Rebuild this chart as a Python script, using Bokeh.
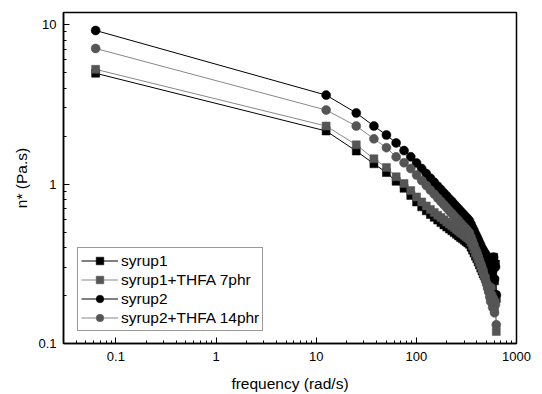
from bokeh.plotting import figure
from bokeh.models import Range1d, FixedTicker, Legend, LegendItem, CustomJSTickFormatter
from bokeh.embed import file_html
from bokeh.resources import INLINE

# frequency (rad/s)
FREQ = [0.0628, 12.57, 25.13, 37.70, 50.27, 62.83, 75.40, 87.96, 100.5, 113.1,
        125.7, 138.2, 150.8, 163.4, 175.9, 188.5, 201.1, 213.6, 226.2, 238.8,
        251.3, 263.9, 276.5, 289.0, 301.6, 314.2, 326.7, 339.3, 351.9, 364.4,
        377.0, 389.6, 402.1, 414.7, 427.3, 439.8, 452.4, 465.0, 477.5, 490.1,
        502.7, 515.2, 527.8, 540.4, 552.9, 565.5, 578.1, 590.6, 603.2, 615.8, 628.3]

SYRUP1 = [4.95, 2.15, 1.61, 1.34, 1.18, 1.04, 0.94, 0.848, 0.772, 0.719,
          0.679, 0.645, 0.618, 0.594, 0.573, 0.554, 0.538, 0.522, 0.509, 0.496,
          0.484, 0.473, 0.462, 0.453, 0.444, 0.435, 0.427, 0.419, 0.402, 0.385,
          0.369, 0.353, 0.339, 0.324, 0.311, 0.297, 0.285, 0.273, 0.265, 0.258,
          0.250, 0.269, 0.243, 0.302, 0.293, 0.329, 0.261, 0.348, 0.247, 0.315, 0.191]

SYRUP1_THFA7 = [5.24, 2.31, 1.76, 1.44, 1.27, 1.11, 1.007, 0.911, 0.830, 0.772,
                0.729, 0.693, 0.664, 0.638, 0.616, 0.596, 0.578, 0.561, 0.547, 0.533,
                0.520, 0.508, 0.497, 0.487, 0.477, 0.467, 0.459, 0.450, 0.432, 0.411,
                0.391, 0.372, 0.356, 0.339, 0.324, 0.308, 0.293, 0.281, 0.267, 0.254,
                0.243, 0.230, 0.217, 0.233, 0.196, 0.220, 0.178, 0.202, 0.165, 0.191, 0.119]

SYRUP2 = [9.18, 3.61, 2.79, 2.31, 2.03, 1.81, 1.62, 1.48, 1.354, 1.249,
          1.163, 1.087, 1.026, 0.970, 0.923, 0.880, 0.842, 0.806, 0.777, 0.748,
          0.722, 0.699, 0.676, 0.656, 0.637, 0.620, 0.604, 0.587, 0.560, 0.533,
          0.510, 0.486, 0.467, 0.447, 0.429, 0.413, 0.396, 0.385, 0.374, 0.364,
          0.353, 0.343, 0.334, 0.324, 0.315, 0.334, 0.285, 0.348, 0.254, 0.302, 0.202]

SYRUP2_THFA14 = [7.08, 2.91, 2.31, 1.92, 1.69, 1.48, 1.36, 1.25, 1.139, 1.051,
                 0.979, 0.915, 0.864, 0.817, 0.777, 0.741, 0.709, 0.679, 0.654, 0.630,
                 0.608, 0.588, 0.569, 0.552, 0.537, 0.522, 0.508, 0.494, 0.464, 0.438,
                 0.414, 0.391, 0.374, 0.353, 0.334, 0.315, 0.297, 0.281, 0.265, 0.250,
                 0.237, 0.223, 0.211, 0.196, 0.183, 0.202, 0.168, 0.191, 0.156, 0.175, 0.131]

SERIES_NAMES = ["syrup1", "syrup1+THFA 7phr", "syrup2", "syrup2+THFA 14phr"]
X_TICKS = [0.1, 1, 10, 100, 1000]
Y_TICKS = [0.1, 1, 10]

FONT = "Liberation Sans"

p = figure(width=542, height=394, x_axis_type="log", y_axis_type="log",
           x_range=Range1d(0.03, 1000), y_range=Range1d(0.1, 11.9),
           output_backend="svg", toolbar_location=None,
           min_border_left=63, min_border_right=26, min_border_top=12, min_border_bottom=49)

p.background_fill_color = "white"
p.border_fill_color = "white"
p.grid.visible = False
p.outline_line_color = "black"
p.outline_line_width = 1.5

x_minor = [m * 10 ** e for e in range(-2, 3) for m in range(2, 10)]
y_minor = [m * 10 ** e for e in range(-1, 1) for m in range(2, 10)]
p.xaxis.ticker = FixedTicker(ticks=X_TICKS, minor_ticks=x_minor)
p.yaxis.ticker = FixedTicker(ticks=Y_TICKS, minor_ticks=y_minor)
fmt = CustomJSTickFormatter(code="return String(+tick.toPrecision(6));")
p.xaxis.formatter = fmt
p.yaxis.formatter = fmt

for ax in (p.xaxis, p.yaxis):
    ax.axis_line_width = 1.5
    ax.axis_line_color = "black"
    ax.major_tick_in = 6
    ax.major_tick_out = 0
    ax.minor_tick_in = 3
    ax.minor_tick_out = 0
    ax.major_tick_line_color = "black"
    ax.minor_tick_line_color = "black"
    ax.major_label_text_font = FONT
    ax.major_label_text_font_size = "13px"
    ax.major_label_text_color = "black"
    ax.axis_label_text_font = FONT
    ax.axis_label_text_font_size = "15.5px"
    ax.axis_label_text_font_style = "normal"
    ax.axis_label_text_color = "black"

p.xaxis.axis_label = "frequency (rad/s)"
p.yaxis.axis_label = "n* (Pa.s)"
p.xaxis.major_label_standoff = 8
p.yaxis.major_label_standoff = 7
p.xaxis.axis_label_standoff = 11
p.yaxis.axis_label_standoff = 5

styles = [
    (SYRUP1, "square", "black", "black", 8),
    (SYRUP1_THFA7, "square", "#555555", "#888888", 8),
    (SYRUP2, "circle", "black", "black", 9),
    (SYRUP2_THFA14, "circle", "#555555", "#888888", 9),
]

items = []
for name, (vals, marker, mcol, lcol, size) in zip(SERIES_NAMES, styles):
    lr = p.line(FREQ, vals, line_color=lcol, line_width=1)
    sr = p.scatter(FREQ, vals, marker=marker, size=size, fill_color=mcol,
                   line_color=mcol, line_width=0.5)
    items.append(LegendItem(label=name, renderers=[lr, sr]))

legend = Legend(items=items, location=(14, 12))
legend.label_text_font = FONT
legend.label_text_font_size = "15.5px"
legend.label_text_color = "black"
legend.glyph_width = 37
legend.glyph_height = 19
legend.label_height = 19
legend.spacing = 0
legend.padding = 3
legend.margin = 0
legend.label_standoff = 3
legend.border_line_color = "#333333"
legend.border_line_width = 1
legend.background_fill_color = "white"
legend.background_fill_alpha = 1
p.add_layout(legend)

open("out.html", "w").write(file_html(p, INLINE))
